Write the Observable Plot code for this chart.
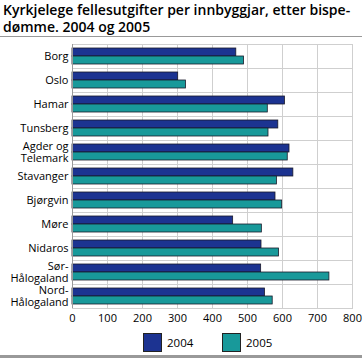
<!DOCTYPE html>
<html>
<head>
<meta charset="utf-8">
<script src="https://cdn.jsdelivr.net/npm/d3@7"></script>
<script src="https://cdn.jsdelivr.net/npm/@observablehq/plot@0.6"></script>
<style>
  body { margin: 0; background: #fff; font-family: "Open Sans", sans-serif; }
  #wrap { position: relative; width: 364px; height: 358px; overflow: hidden; }
  #title { position: absolute; left: 3px; top: 1px; font-size: 14px; font-weight: 600; line-height: 17px; color: #000; white-space: nowrap; }
  #rule1 { position: absolute; left: 0; top: 36px; width: 362px; height: 1px; background: #999; }
  #chart { position: absolute; left: 0; top: 37px; }
  #legend { position: absolute; left: 0; top: 333px; width: 364px; height: 20px; font-size: 11.5px; }
  .sw { position: absolute; top: 0; width: 19px; height: 19px; border: 1px solid #222; box-sizing: border-box; }
  .lab { position: absolute; top: 2px; line-height: 16px; color: #000; }
  #rule2 { position: absolute; left: 0; top: 355px; width: 362px; height: 3px; background: #999; }
</style>
</head>
<body>
<div id="wrap">
  <div id="title">Kyrkjelege fellesutgifter per innbyggjar, etter bispe-<br>dømme. 2004 og 2005</div>
  <div id="rule1"></div>
  <div id="chart"></div>
  <div id="legend"></div>
  <div id="rule2"></div>
</div>
<script>
const categories = ["Borg", "Oslo", "Hamar", "Tunsberg", "Agder og Telemark", "Stavanger", "Bjørgvin", "Møre", "Nidaros", "Sør-Hålogaland", "Nord-Hålogaland"];
const categoryLabels = ["Borg", "Oslo", "Hamar", "Tunsberg", "Agder og\nTelemark", "Stavanger", "Bjørgvin", "Møre", "Nidaros", "Sør-\nHålogaland", "Nord-\nHålogaland"];
const series = ["2004", "2005"];
const values2004 = [468, 302, 607, 588, 620, 631, 580, 459, 540, 539, 550];
const values2005 = [490, 324, 558, 560, 615, 584, 599, 541, 590, 734, 572];
const xTicks = [0, 100, 200, 300, 400, 500, 600, 700, 800];
const colors = ["#1c3391", "#18999a"];

const data = [];
categories.forEach((c, i) => {
  data.push({cat: c, year: series[0], value: values2004[i]});
  data.push({cat: c, year: series[1], value: values2005[i]});
});
const labelOf = new Map(categories.map((c, i) => [c, categoryLabels[i]]));

const chart = Plot.plot({
  width: 364,
  height: 291,
  marginTop: 7,
  marginBottom: 20,
  marginLeft: 72,
  marginRight: 12,
  style: {fontFamily: "Open Sans, sans-serif", fontSize: "11px", color: "#000", background: "#fff"},
  facet: {data: data, y: "cat", marginTop: 7, marginBottom: 20, marginLeft: 72, marginRight: 12},
  fy: {domain: categories, padding: 0, label: null, axis: null},
  y: {domain: series, axis: null, paddingInner: 0.06, paddingOuter: 0.44},
  x: {domain: [0, 800], ticks: xTicks, tickSize: 0, tickPadding: 6, label: null},
  color: {domain: series, range: colors},
  marks: [
    Plot.ruleX(xTicks, {stroke: "#cfcfcf", strokeWidth: 1}),
    Plot.frame({stroke: "#cfcfcf"}),
    Plot.barX(data, {x: "value", y: "year", fill: "year", stroke: "#1a1a2a", strokeWidth: 0.8}),
    Plot.ruleX([0], {stroke: "#999"}),
    Plot.text(data, {filter: d => d.year === series[0], text: d => labelOf.get(d.cat), frameAnchor: "left", textAnchor: "end", dx: -4, lineHeight: 1.08, fontSize: 11, fill: "#000"})
  ]
});
document.getElementById("chart").appendChild(chart);

const legend = document.getElementById("legend");
const legendX = [143, 222];
series.forEach((s, i) => {
  const sw = document.createElement("div");
  sw.className = "sw";
  sw.style.left = legendX[i] + "px";
  sw.style.background = colors[i];
  legend.appendChild(sw);
  const lab = document.createElement("div");
  lab.className = "lab";
  lab.style.left = (legendX[i] + 24) + "px";
  lab.textContent = s;
  legend.appendChild(lab);
});
</script>
</body>
</html>
